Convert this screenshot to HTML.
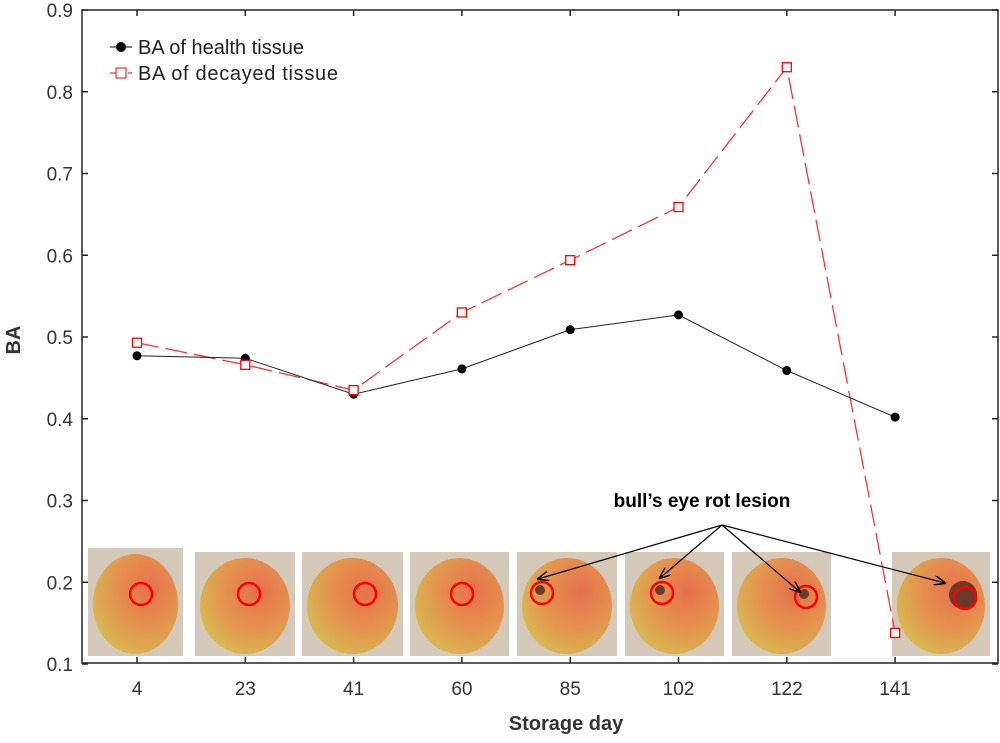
<!DOCTYPE html>
<html><head><meta charset="utf-8"><style>
body{margin:0;background:#fff;}
svg{display:block;font-family:"Liberation Sans",Arial,sans-serif;}
</style></head><body>
<svg id="chart" width="1000" height="743" viewBox="0 0 1000 743">
<defs>
<radialGradient id="apple" cx="0.65" cy="0.35" r="0.75">
<stop offset="0" stop-color="#e8704c"/><stop offset="0.5" stop-color="#e4914e"/><stop offset="1" stop-color="#d8bc52"/>
</radialGradient>
<marker id="arr" markerWidth="10" markerHeight="8" refX="9" refY="4" orient="auto"><path d="M0,0 L10,4 L0,8" fill="none" stroke="#000" stroke-width="1.2"/></marker>
</defs>
<g id="photos"></g>
<rect x="82" y="10" width="916" height="653" fill="none" stroke="#222" stroke-width="1.5"/>
<g id="axes"></g>
<g id="series"></g>
<text x="702" y="507" font-size="19" font-weight="bold" text-anchor="middle">bull’s eye rot lesion</text>
<g id="arrows"></g>
<g>
<line x1="110" y1="47" x2="132" y2="47" stroke="#000"/><circle cx="121" cy="47" r="5" fill="#000"/>
<text x="138" y="54" font-size="20" fill="#222" textLength="166">BA of health tissue</text>
<line x1="110" y1="73" x2="132" y2="73" stroke="#f00" stroke-dasharray="6,3"/><rect x="116" y="68" width="10" height="10" fill="#fff" stroke="#f00"/>
<text x="138" y="80" font-size="20" fill="#222" textLength="200">BA of decayed tissue</text>
</g>
<text transform="translate(20,340) rotate(-90)" font-size="20" font-weight="bold" fill="#333" text-anchor="middle">BA</text>
<text x="566" y="730" font-size="20" font-weight="bold" fill="#333" text-anchor="middle">Storage day</text>
</svg>
<script>
const categories=["4","23","41","60","85","102","122","141"];
const healthValues=[0.477,0.474,0.430,0.461,0.509,0.527,0.459,0.402];
const decayedValues=[0.493,0.466,0.435,0.530,0.594,0.659,0.830,0.138];
const yTicks=[0.1,0.2,0.3,0.4,0.5,0.6,0.7,0.8,0.9];
const NS="http://www.w3.org/2000/svg";
function X(i){return 137+108.3*i;}
function Y(v){return 664-(v-0.1)/0.8*654;}
function mk(tag,attrs,parent){const e=document.createElementNS(NS,tag);for(const k in attrs)e.setAttribute(k,attrs[k]);parent.appendChild(e);return e;}
const axes=document.getElementById('axes');
yTicks.forEach(v=>{
 const y=Y(v);
 const t=mk('line',{x1:82,y1:y,x2:88,y2:y,stroke:'#222','stroke-width':1.5},axes);
 
 
 const t2=mk('line',{x1:992,y1:y,x2:998,y2:y,stroke:'#222','stroke-width':1.5},axes);
 
 
 const l=mk('text',{x:73,y:y+7,'font-size':19,fill:'#333','text-anchor':'end'},axes);
 l.textContent=v.toFixed(1);
 
 
});
categories.forEach((c,i)=>{
 const x=X(i);
 const t=mk('line',{x1:x,y1:657,x2:x,y2:663,stroke:'#222','stroke-width':1.5},axes);
 
 
 const t2=mk('line',{x1:x,y1:10,x2:x,y2:16,stroke:'#222','stroke-width':1.5},axes);
 
 
 const l=mk('text',{x:x,y:695,'font-size':19,fill:'#333','text-anchor':'middle'},axes);
 l.textContent=c;
 
 
});
const photos=document.getElementById('photos');
const boxes=[[88,548,95,108,141,594],[195,552,100,104,249,594],[302,552,101,104,365,594],[410,552,99,104,462,594],[517,552,100,104,542,593],[625,552,99,104,662,593],[732,552,99,104,806,597],[892,552,98,104,965,598]];
boxes.forEach((b,i)=>{
 const g=mk('g',{},photos);
 
 
 mk('rect',{x:b[0],y:b[1],width:b[2],height:b[3],fill:'#d4c8b8'},g);
 mk('ellipse',{cx:b[0]+b[2]/2,cy:b[1]+b[3]/2+2,rx:b[2]/2-5,ry:b[3]/2-4,fill:'url(#apple)'},g);
 if(i>=4) mk('circle',{cx:b[4]-2,cy:b[5]-3,r:i==7?14:5,fill:'#6a3a2a'},g);
 mk('circle',{cx:b[4],cy:b[5],r:11,fill:'none',stroke:'#f00','stroke-width':2.5},g);
});
const arrows=document.getElementById('arrows');
[[538,579],[660,578],[800,592],[945,583]].forEach(p=>{
 mk('line',{x1:722,y1:525,x2:p[0],y2:p[1],stroke:'#000','stroke-width':1.2,'marker-end':'url(#arr)'},arrows);
});
const s=document.getElementById('series');
const dl=mk('polyline',{points:decayedValues.map((v,i)=>X(i)+','+Y(v)).join(' '),fill:'none',stroke:'#f33','stroke-width':1.3,'stroke-dasharray':'22,7'},s);


const hl=mk('polyline',{points:healthValues.map((v,i)=>X(i)+','+Y(v)).join(' '),fill:'none',stroke:'#222','stroke-width':1},s);


healthValues.forEach((v,i)=>{
 const c=mk('circle',{cx:X(i),cy:Y(v),r:4.5,fill:'#000'},s);
 
 
});
decayedValues.forEach((v,i)=>{
 const r=mk('rect',{x:X(i)-4.5,y:Y(v)-4.5,width:9,height:9,fill:'#fff',stroke:'#f00','stroke-width':1.3},s);
 
 
});
</script>
</body></html>
